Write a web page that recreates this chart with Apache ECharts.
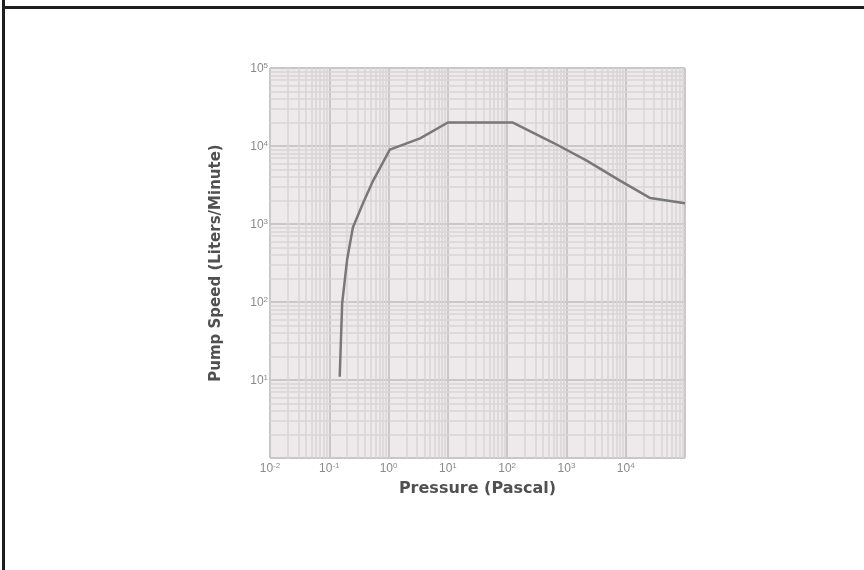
<!DOCTYPE html>
<html>
<head>
<meta charset="utf-8">
<script src="https://cdn.jsdelivr.net/npm/echarts@6/dist/echarts.min.js"></script>
<style>html,body{margin:0;padding:0;background:#fff}#c{width:864px;height:570px}</style>
</head>
<body>
<div id="c"></div>
<script>
// Data (pressure in Pascal, pump speed in L/min)
var pressure = [0.15, 0.165, 0.2, 0.25, 0.37, 0.55, 1.05, 3.4, 10, 125, 600, 2200, 8000, 26000, 100000];
var pumpSpeed = [11, 97, 350, 900, 1850, 3600, 9000, 12500, 20000, 20000, 11000, 6500, 3600, 2150, 1850];
var xTickExponents = [-2, -1, 0, 1, 2, 3, 4, 5];
var yTickExponents = [0, 1, 2, 3, 4, 5];

function fmt(v){
  var e = Math.round(Math.log10(v));
  return '{b|10}{s|' + e + '}';
}
var labelRich = {
  b: {fontSize: 12, color: '#8a8a8a', fontFamily: 'Liberation Sans', verticalAlign: 'bottom'},
  s: {fontSize: 8, color: '#8a8a8a', fontFamily: 'Liberation Sans', verticalAlign: 'bottom', padding: [0, 0, 5, 0]}
};

// log-paper grid lines (styling only)
function paperLines(exps, key){
  var out = [];
  for (var i = 0; i < exps.length - 1; i++) {
    for (var m = 2; m <= 9; m++) {
      var o = {}; o[key] = m * Math.pow(10, exps[i]);
      out.push(o);
    }
  }
  return out;
}
var gridLines = paperLines(xTickExponents, 'xAxis').concat(paperLines(yTickExponents, 'yAxis'));

var pts = pressure.map(function(p, i){ return [p, pumpSpeed[i]]; });

var chart = echarts.init(document.getElementById('c'), null, {renderer:'canvas'});
chart.setOption({
  animation: false,
  backgroundColor: '#ffffff',
  grid: {left: 270, top: 68, width: 415, height: 390, show: true, backgroundColor: '#eeeaec', borderWidth: 0},
  graphic: [
    {type:'rect', shape:{x:2, y:0, width:3, height:570}, style:{fill:'#1e1e1e'}},
    {type:'rect', shape:{x:2, y:6, width:862, height:3}, style:{fill:'#1e1e1e'}}
  ],
  xAxis: {
    type: 'log', logBase: 10,
    min: Math.pow(10, xTickExponents[0]), max: Math.pow(10, xTickExponents[xTickExponents.length-1]),
    interval: 1,
    name: 'Pressure (Pascal)', nameLocation: 'middle', nameGap: 23,
    nameTextStyle: {color: '#505050', fontSize: 16, fontFamily: 'DejaVu Sans', fontWeight: 'bold'},
    axisLine: {show: false}, axisTick: {show: false},
    axisLabel: {formatter: fmt, rich: labelRich, margin: 4, showMaxLabel: false},
    splitLine: {show: true, lineStyle: {color: '#cbc6c9', width: 2}}
  },
  yAxis: {
    type: 'log', logBase: 10,
    min: Math.pow(10, yTickExponents[0]), max: Math.pow(10, yTickExponents[yTickExponents.length-1]),
    interval: 1,
    name: 'Pump Speed (Liters/Minute)', nameLocation: 'middle', nameGap: 46, nameRotate: 90,
    nameTextStyle: {color: '#505050', fontSize: 15, fontFamily: 'DejaVu Sans', fontWeight: 'bold'},
    axisLine: {show: false}, axisTick: {show: false},
    axisLabel: {formatter: fmt, rich: labelRich, margin: 2, showMinLabel: false},
    splitLine: {show: true, lineStyle: {color: '#cbc6c9', width: 2}}
  },
  series: [
    {
      type: 'line', data: [], silent: true, z: 1,
      markLine: {silent: true, symbol: ['none','none'], label: {show: false}, z: 1,
        lineStyle: {color: '#d8d3d6', width: 1.5, type: 'solid'}, data: gridLines}
    },
    {
      type: 'line', data: pts, showSymbol: false, smooth: false, z: 10,
      lineStyle: {color: '#787878', width: 2.5}
    }
  ]
});
</script>
</body>
</html>
